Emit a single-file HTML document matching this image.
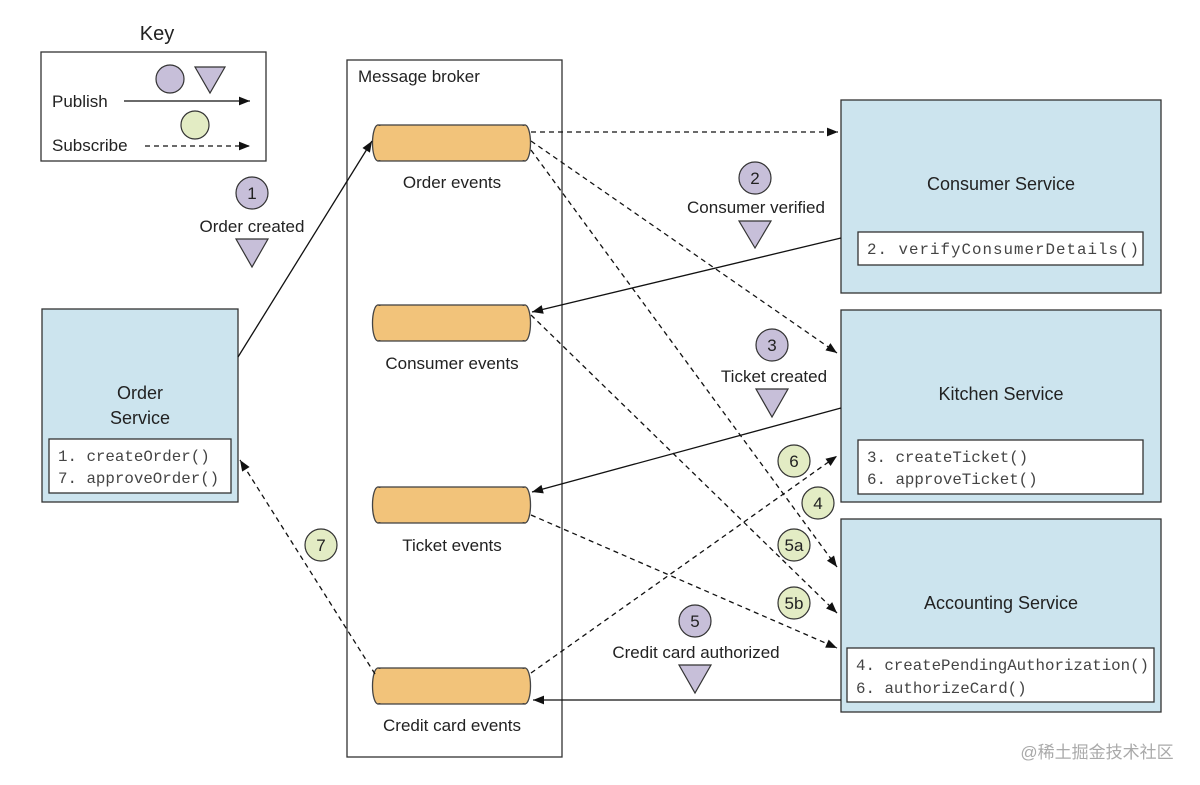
<!DOCTYPE html>
<html><head><meta charset="utf-8"><style>
html,body{margin:0;padding:0;background:#fff;width:1200px;height:785px;overflow:hidden}
svg text{font-family:"Liberation Sans",sans-serif;fill:#222}
.m{font-family:"Liberation Mono",monospace;font-size:15.8px;fill:#444}
</style></head><body>
<svg width="1200" height="785" viewBox="0 0 1200 785" xmlns="http://www.w3.org/2000/svg">
<defs>
<marker id="a" viewBox="0 0 10 10" refX="10" refY="5" markerWidth="14" markerHeight="11" markerUnits="userSpaceOnUse" orient="auto"><path d="M0,1 L10,5 L0,9 z" fill="#111"/></marker>
<g id="cyl"><rect x="378" y="0" width="147" height="36" fill="#f2c37a" stroke="#444" stroke-width="1.3"/><ellipse cx="378" cy="18" rx="5.5" ry="18" fill="#f2c37a" stroke="#444" stroke-width="1.3"/><ellipse cx="525" cy="18" rx="5.5" ry="18" fill="#f2c37a" stroke="#444" stroke-width="1.3"/><rect x="379" y="1" width="145" height="34" fill="#f2c37a"/></g>
</defs>
<text x="157" y="40" font-size="20" text-anchor="middle">Key</text>
<rect x="41" y="52" width="225" height="109" fill="#fff" stroke="#333" stroke-width="1.3"/>
<circle cx="170" cy="79" r="14" fill="#c7bfd9" stroke="#333" stroke-width="1.2"/>
<path d="M195,67 L225,67 L210,93 z" fill="#c7bfd9" stroke="#333" stroke-width="1.2"/>
<text x="52" y="107" font-size="17">Publish</text>
<line x1="124" y1="101" x2="250" y2="101" stroke="#111" stroke-width="1.3" marker-end="url(#a)"/>
<circle cx="195" cy="125" r="14" fill="#e3ecc4" stroke="#333" stroke-width="1.2"/>
<text x="52" y="151" font-size="17">Subscribe</text>
<line x1="145" y1="146" x2="250" y2="146" stroke="#111" stroke-width="1.3" stroke-dasharray="5,4" marker-end="url(#a)"/>
<rect x="347" y="60" width="215" height="697" fill="#fff" stroke="#333" stroke-width="1.3"/>
<text x="358" y="82" font-size="17">Message broker</text>
<rect x="42" y="309" width="196" height="193" fill="#cce4ee" stroke="#333" stroke-width="1.3"/>
<text x="140" y="399" font-size="18" text-anchor="middle">Order</text>
<text x="140" y="424" font-size="18" text-anchor="middle">Service</text>
<rect x="49" y="439" width="182" height="54" fill="#fff" stroke="#333" stroke-width="1.3"/>
<text class="m" x="58" y="461" font-size="15">1. createOrder()</text>
<text class="m" x="58" y="483" font-size="15">7. approveOrder()</text>

<rect x="841" y="100" width="320" height="193" fill="#cce4ee" stroke="#333" stroke-width="1.3"/>
<text x="1001" y="190" font-size="18" text-anchor="middle">Consumer Service</text>
<rect x="858" y="232" width="285" height="33" fill="#fff" stroke="#333" stroke-width="1.3"/>
<text class="m" x="867" y="254" textLength="272">2. verifyConsumerDetails()</text>

<rect x="841" y="310" width="320" height="192" fill="#cce4ee" stroke="#333" stroke-width="1.3"/>
<text x="1001" y="400" font-size="18" text-anchor="middle">Kitchen Service</text>
<rect x="858" y="440" width="285" height="54" fill="#fff" stroke="#333" stroke-width="1.3"/>
<text class="m" x="867" y="462">3. createTicket()</text>
<text class="m" x="867" y="484">6. approveTicket()</text>

<rect x="841" y="519" width="320" height="193" fill="#cce4ee" stroke="#333" stroke-width="1.3"/>
<text x="1001" y="609" font-size="18" text-anchor="middle">Accounting Service</text>
<rect x="847" y="648" width="307" height="54" fill="#fff" stroke="#333" stroke-width="1.3"/>
<text class="m" x="856" y="670" textLength="293">4. createPendingAuthorization()</text>
<text class="m" x="856" y="693">6. authorizeCard()</text>
<use href="#cyl" y="125"/><text x="452" y="188" font-size="17" text-anchor="middle">Order events</text>
<use href="#cyl" y="305"/><text x="452" y="369" font-size="17" text-anchor="middle">Consumer events</text>
<use href="#cyl" y="487"/><text x="452" y="551" font-size="17" text-anchor="middle">Ticket events</text>
<use href="#cyl" y="668"/><text x="452" y="731" font-size="17" text-anchor="middle">Credit card events</text>
<g stroke="#111" stroke-width="1.3" fill="none">
<line x1="238" y1="357" x2="372" y2="141" marker-end="url(#a)"/>
<line x1="841" y1="238" x2="532" y2="312" marker-end="url(#a)"/>
<line x1="841" y1="408" x2="532" y2="492" marker-end="url(#a)"/>
<line x1="841" y1="700" x2="533" y2="700" marker-end="url(#a)"/>
</g>
<g stroke="#111" stroke-width="1.3" fill="none" stroke-dasharray="5,4">
<line x1="531" y1="132" x2="838" y2="132" marker-end="url(#a)"/>
<line x1="531" y1="141" x2="837" y2="353" marker-end="url(#a)"/>
<line x1="531" y1="150" x2="837" y2="567" marker-end="url(#a)"/>
<line x1="531" y1="315" x2="837" y2="613" marker-end="url(#a)"/>
<line x1="531" y1="515" x2="837" y2="648" marker-end="url(#a)"/>
<line x1="531" y1="673" x2="837" y2="456" marker-end="url(#a)"/>
<line x1="375" y1="674" x2="240" y2="460" marker-end="url(#a)"/>
</g>
<g stroke="#333" stroke-width="1.2">
<circle cx="252" cy="193" r="16" fill="#c7bfd9"/><path d="M236,239 L268,239 L252,267 z" fill="#c7bfd9"/>
<circle cx="755" cy="178" r="16" fill="#c7bfd9"/><path d="M739,221 L771,221 L755,248 z" fill="#c7bfd9"/>
<circle cx="772" cy="345" r="16" fill="#c7bfd9"/><path d="M756,389 L788,389 L772,417 z" fill="#c7bfd9"/>
<circle cx="695" cy="621" r="16" fill="#c7bfd9"/><path d="M679,665 L711,665 L695,693 z" fill="#c7bfd9"/>
<circle cx="794" cy="461" r="16" fill="#e3ecc4"/>
<circle cx="818" cy="503" r="16" fill="#e3ecc4"/>
<circle cx="794" cy="545" r="16" fill="#e3ecc4"/>
<circle cx="794" cy="603" r="16" fill="#e3ecc4"/>
<circle cx="321" cy="545" r="16" fill="#e3ecc4"/>
</g>
<g font-size="17" text-anchor="middle">
<text x="252" y="199">1</text><text x="252" y="232">Order created</text>
<text x="755" y="184">2</text><text x="756" y="213">Consumer verified</text>
<text x="772" y="351">3</text><text x="774" y="382">Ticket created</text>
<text x="695" y="627">5</text><text x="696" y="658">Credit card authorized</text>
<text x="794" y="467">6</text><text x="818" y="509">4</text>
<text x="794" y="551">5a</text><text x="794" y="609">5b</text>
<text x="321" y="551">7</text>
</g>
<text x="1097" y="758" font-size="17" text-anchor="middle" style="fill:#aaa;font-family:'Liberation Sans','Noto Sans CJK SC',sans-serif">@稀土掘金技术社区</text>
</svg>
</body></html>
